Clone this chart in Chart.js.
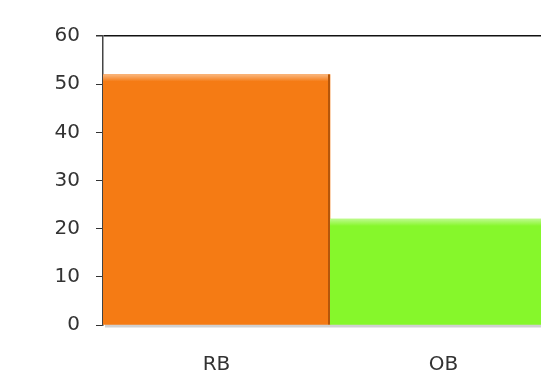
<!DOCTYPE html>
<html>
<head>
<meta charset="utf-8">
<script src="https://cdn.jsdelivr.net/npm/chart.js@4"></script>
<style>
  html, body { margin: 0; padding: 0; background: #fff; overflow: hidden; }
  #wrap { position: absolute; left: 0; top: 0; width: 572px; height: 371px; }
</style>
</head>
<body>
<div id="wrap"><canvas id="myChart"></canvas></div>
<script>
const categories = ['RB', 'OB'];
const values = [52, 22];
const barColors = ['#f57b14', '#86f72b'];
const edgeColors = ['#b5560a', '#5aa81a'];
const yTicks = [0, 10, 20, 30, 40, 50, 60];

// bevel + shadow look of the original bars
const bevel = {
  id: 'bevel',
  beforeDatasetsDraw(chart) {
    const ctx = chart.ctx;
    ctx.save();
    chart.getDatasetMeta(0).data.forEach((bar, i) => {
      const l = bar.x - bar.width / 2, r = bar.x + bar.width / 2;
      ctx.fillStyle = 'rgba(0,0,0,0.18)';
      ctx.fillRect(l + 2, bar.base - 1, r - l, 4);
    });
    ctx.restore();
  },
  afterDatasetsDraw(chart) {
    const ctx = chart.ctx;
    ctx.save();
    chart.getDatasetMeta(0).data.forEach((bar, i) => {
      const l = bar.x - bar.width / 2, r = bar.x + bar.width / 2;
      const g = ctx.createLinearGradient(0, bar.y, 0, bar.y + 7);
      g.addColorStop(0, 'rgba(255,255,255,0.45)');
      g.addColorStop(1, 'rgba(255,255,255,0)');
      ctx.fillStyle = g;
      ctx.fillRect(l, bar.y, r - l - 2, 7);
      ctx.fillStyle = edgeColors[i];
      ctx.fillRect(r - 2, bar.y, 2, bar.base - bar.y);
    });
    ctx.restore();
  }
};

const myChart = new Chart(document.getElementById('myChart'), {
  type: 'bar',
  plugins: [bevel],
  data: {
    labels: categories,
    datasets: [{
      data: values,
      backgroundColor: barColors,
      borderWidth: 0,
      barPercentage: 1,
      categoryPercentage: 1
    }]
  },
  options: {
    responsive: true,
    maintainAspectRatio: false,
    animation: false,
    layout: { padding: { top: 36, right: 15, left: 0, bottom: 0 } },
    plugins: { legend: { display: false }, tooltip: { enabled: false } },
    scales: {
      x: {
        grid: { display: false },
        border: { display: false },
        ticks: { color: '#333', font: { family: 'DejaVu Sans', size: 20 }, padding: 20 },
        afterFit: s => { s.height = 46; }
      },
      y: {
        min: 0,
        max: 60,
        afterBuildTicks: s => { s.ticks = yTicks.map(v => ({ value: v })); },
        grid: {
          color: c => c.tick && c.tick.value === 60 ? '#111' : 'rgba(0,0,0,0)',
          lineWidth: c => c.tick && c.tick.value === 60 ? 1.5 : 1,
          tickColor: '#333',
          tickLength: 7
        },
        border: { color: '#444', width: 1.5 },
        ticks: { color: '#333', font: { family: 'DejaVu Sans', size: 20 }, padding: 16 },
        afterFit: s => { s.width = 103; }
      }
    }
  }
});
</script>
</body>
</html>
